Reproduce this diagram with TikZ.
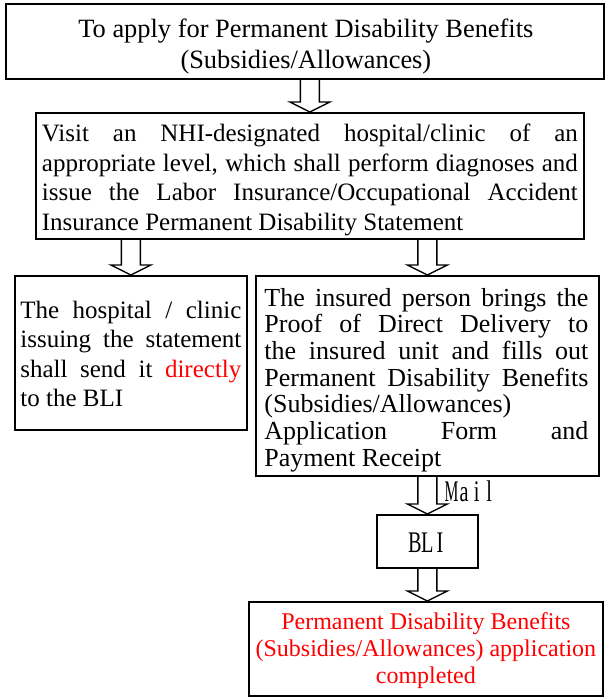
\documentclass[tikz,border=0pt]{standalone}
\usepackage{fontspec}
\setmainfont{Liberation Serif}
\usetikzlibrary{calc}
\tikzset{
  frame/.style={draw, line width=1.8pt, inner sep=0pt, anchor=north west},
  txt/.style={inner sep=0pt, align=left},
  barrow/.style={draw, line width=1.4pt, line join=miter},
  redtext/.style={text=red},
}
\newcommand{\jl}[2]{\makebox[#1][s]{#2}}
\newcommand{\mc}[1]{\makebox[12.6pt]{\scalebox{0.78}[1.15]{\fontsize{26}{26}\selectfont #1}}}
\newcommand{\mcn}[1]{\makebox[12.6pt]{\scalebox{0.6}[1.15]{\fontsize{26}{26}\selectfont #1}}}
\newcommand{\blockarrow}[2]{%
  \draw[barrow] let \p1=(#1), \p2=(#2) in
    (\x1-9.5pt,\y1) -- (\x1-9.5pt,\y2+10pt) -- (\x1-20pt,\y2+10pt) -- (\x1,\y2)
    -- (\x1+20pt,\y2+10pt) -- (\x1+9.5pt,\y2+10pt) -- (\x1+9.5pt,\y1);}
\begin{document}
\begin{tikzpicture}[x=1pt,y=-1pt]
\useasboundingbox (0,0) rectangle (605,697);

% frames
\node[frame, minimum width=598pt, minimum height=75pt] (b1) at (5,3) {};
\node[frame, minimum width=548pt, minimum height=126pt] (b2) at (35,112) {};
\node[frame, minimum width=232pt, minimum height=154pt] (b3) at (14,275) {};
\node[frame, minimum width=343pt, minimum height=200pt] (b4) at (255,275) {};
\node[frame, minimum width=101pt, minimum height=53pt] (bli) at (376,514) {};
\node[frame, minimum width=354pt, minimum height=94pt] (fin) at (248,601) {};

% texts
\node[txt, align=center, font=\fontsize{26.4}{31}\selectfont] (t1)
  at ($(b1.center)+(1,5)$)
  {To apply for Permanent Disability Benefits\\(Subsidies/Allowances)};

\node[txt, font=\fontsize{25}{29.8}\selectfont] (t2) at ($(b2.center)+(0,4)$)
  {\jl{536pt}{Visit an NHI-designated hospital/clinic of an}\\
   \jl{536pt}{appropriate level, which shall perform diagnoses and}\\
   \jl{536pt}{issue the Labor Insurance/Occupational Accident}\\
   Insurance Permanent Disability Statement};

\node[txt, font=\fontsize{25}{29.5}\selectfont] (t3) at ($(b3.center)+(0,1)$)
  {\jl{221pt}{The hospital / clinic}\\
   \jl{221pt}{issuing the statement}\\
   \jl{221pt}{shall send it \textcolor{red}{directly}}\\
   to the BLI};

\node[txt, font=\fontsize{26}{26.7}\selectfont] (t4) at ($(b4.center)+(-1,4)$)
  {\jl{324pt}{The insured person brings the}\\
   \jl{324pt}{Proof of Direct Delivery to}\\
   \jl{324pt}{the insured unit and fills out}\\
   \jl{324pt}{Permanent Disability Benefits}\\
   (Subsidies/Allowances)\\
   \jl{324pt}{Application Form and}\\
   Payment Receipt};

\node[txt] (tbli) at ($(bli.center)+(0,1)$) {\mc{B}\mc{L}\mc{I}};

\node[txt, align=center, redtext, font=\fontsize{24}{27}\selectfont] (tfin)
  at ($(fin.center)+(0,2)$)
  {Permanent Disability Benefits\\(Subsidies/Allowances) application\\completed};

\node[txt, anchor=west] (mail) at (445,491) {\mcn{M}\mc{a}\mc{i}\mc{l}};

% block arrows
\blockarrow{b1.south -| b2.north}{b2.north}
\blockarrow{b3.north |- b2.south}{b3.north}
\blockarrow{b4.north |- b2.south}{b4.north}
\blockarrow{b4.south -| bli.north}{bli.north}
\blockarrow{bli.south}{bli.south |- fin.north}
\end{tikzpicture}
\end{document}
